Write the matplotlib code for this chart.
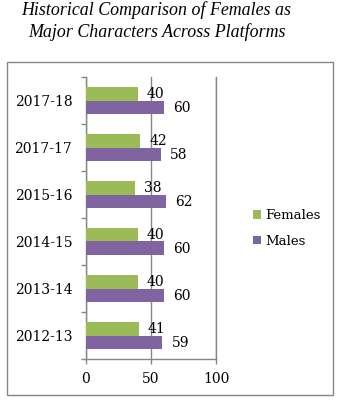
import matplotlib
matplotlib.use("Agg")
import matplotlib.pyplot as plt
import numpy as np
from matplotlib.patches import Patch, Rectangle

# Seasons listed bottom-to-top as they appear on the axis
seasons = ["2012-13", "2013-14", "2014-15", "2015-16", "2017-17", "2017-18"]
females = [41, 40, 40, 38, 42, 40]
males = [59, 60, 60, 62, 58, 60]
x_ticks = [0, 50, 100]

GREEN = "#9BBB59"
PURPLE = "#8064A2"
GREY = "#868686"
SERIF = "DejaVu Serif"

W, H = 343, 400
fig = plt.figure(figsize=(W / 100, H / 100), dpi=100)

# Outer chart frame
fig.add_artist(Rectangle((7 / W, 1 - 395 / H), 326 / W, 333 / H,
                         transform=fig.transFigure, fill=False,
                         edgecolor=GREY, linewidth=1.0))

ax = fig.add_axes([85.5 / W, 1 - 359 / H, 130.5 / W, 282 / H])

y = np.arange(len(seasons))
h = 0.278
bf = ax.barh(y + h / 2, females, height=h, color=GREEN, zorder=3)
bm = ax.barh(y - h / 2, males, height=h, color=PURPLE, zorder=3)

for rect, v in zip(bf, females):
    ax.annotate(f"{v}", (rect.get_width(), rect.get_y() + rect.get_height() / 2),
                xytext=(6.5, 0), textcoords="offset points", ha="left",
                va="center", fontsize=10, family=SERIF, zorder=4)
for rect, v in zip(bm, males):
    ax.annotate(f"{v}", (rect.get_width(), rect.get_y() + rect.get_height() / 2),
                xytext=(6.5, -1), textcoords="offset points", ha="left",
                va="center", fontsize=10, family=SERIF, zorder=4)

ax.set_xlim(0, 100)
ax.set_ylim(-0.5, len(seasons) - 0.5)
ax.set_xticks(x_ticks)
ax.set_xticklabels([str(t) for t in x_ticks], family=SERIF, fontsize=10)
ax.set_yticks(y)
ax.set_yticklabels(seasons, family=SERIF, fontsize=10)
ax.set_yticks(np.arange(-0.5, len(seasons)), minor=True)
ax.tick_params(axis="y", which="major", length=0, pad=9.5)
ax.tick_params(axis="y", which="minor", length=3.6, color=GREY, width=1)
ax.tick_params(axis="x", length=3.6, color=GREY, width=1, pad=5.5)

ax.spines["top"].set_visible(False)
for side in ("left", "bottom", "right"):
    ax.spines[side].set_color(GREY)
    ax.spines[side].set_linewidth(1)

ax.xaxis.grid(True, color=GREY, linewidth=1, zorder=0)
ax.set_axisbelow(True)

# Title
fig.text(156 / W, 1 - 15 / H, "Historical Comparison of Females as",
         ha="center", va="baseline", fontsize=12.9, style="italic",
         family="Liberation Serif")
fig.text(157 / W, 1 - 37 / H, "Major Characters Across Platforms",
         ha="center", va="baseline", fontsize=12.9, style="italic",
         family="Liberation Serif")

handles = [Patch(facecolor=GREEN), Patch(facecolor=PURPLE)]
fig.legend(handles, ["Females", "Males"], loc="center left",
           bbox_to_anchor=(253 / W, 1 - 228.5 / H), frameon=False,
           borderpad=0, borderaxespad=0, handlelength=0.6, handleheight=0.6,
           handletextpad=0.3, labelspacing=0.95,
           prop={"family": SERIF, "size": 9.5})

fig.savefig("out.png", dpi=100)
